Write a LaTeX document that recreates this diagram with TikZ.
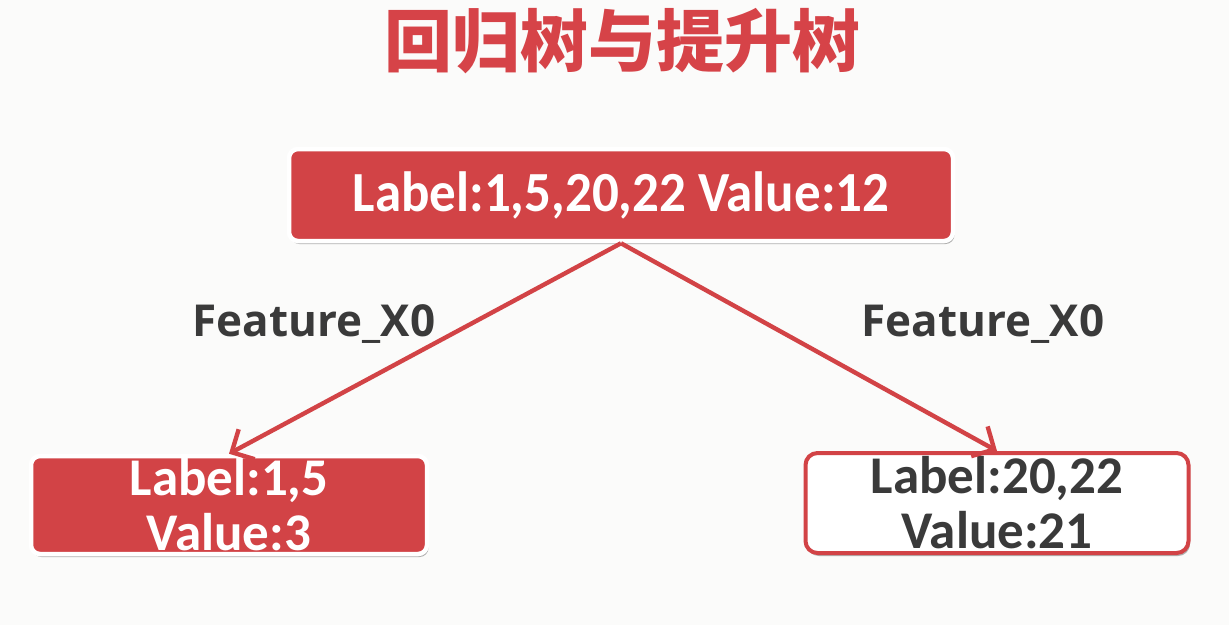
\documentclass[tikz,border=0pt]{standalone}
\usepackage{fontspec}
\setmainfont{Carlito}
\newfontfamily\featfont{Open Sans}[BoldFont={* Bold}]
\newfontfamily\cjk{Noto Sans CJK SC}
\usetikzlibrary{arrows.meta,shadows}
\definecolor{nodered}{HTML}{D24346}
\definecolor{titlered}{HTML}{D64348}
\definecolor{txtgray}{HTML}{3A3A3A}
\definecolor{bg}{HTML}{FBFBFA}
\tikzset{
  boxshadow/.style={drop shadow={opacity=0.5, fill=black!60, shadow xshift=1.5pt, shadow yshift=-3pt}},
  redbox/.style={draw=white, line width=4.5pt, fill=nodered, rounded corners=9pt,
    text=white, font=\fontsize{53}{55}\selectfont\bfseries, align=center, inner sep=0pt,
    boxshadow},
  whitebox/.style={draw=nodered, line width=4pt, fill=white, rounded corners=12pt,
    text=txtgray, font=\fontsize{53}{55}\selectfont\bfseries, align=center, inner sep=0pt,
    boxshadow},
  conn/.style={draw=nodered, line width=4.4pt, -{Straight Barb[length=17pt,width=34pt]}},
  feat/.style={text=txtgray, font=\fontsize{44}{50}\selectfont\featfont\bfseries, inner sep=0pt}
}
\begin{document}
\begin{tikzpicture}[x=1pt,y=-1pt]
\useasboundingbox (0,0) rectangle (1229,625);
\fill[bg] (0,0) rectangle (1229,625);
\node[text=titlered, font=\fontsize{68}{72}\selectfont\cjk\bfseries, inner sep=0pt] (title) at (622,41) {回归树与提升树};
\node[redbox, minimum width=664pt, minimum height=92pt] (root) at (621,195) {\scalebox{1}[1.07]{Label:1,5,20,22 Value:12}};
\node[redbox, minimum width=396pt, minimum height=98pt] (left) at (229,505) {Label:1,5\\Value:3};
\node[whitebox, minimum width=383pt, minimum height=100pt] (right) at (997,503) {Label:20,22\\Value:21};
\draw[conn] (root.south) -- (left.north);
\draw[conn] (root.south) -- (right.north);
\node[feat] (f1) at (314,324) {Feature\_X0};
\node[feat] (f2) at (983,324) {Feature\_X0};
\end{tikzpicture}
\end{document}
